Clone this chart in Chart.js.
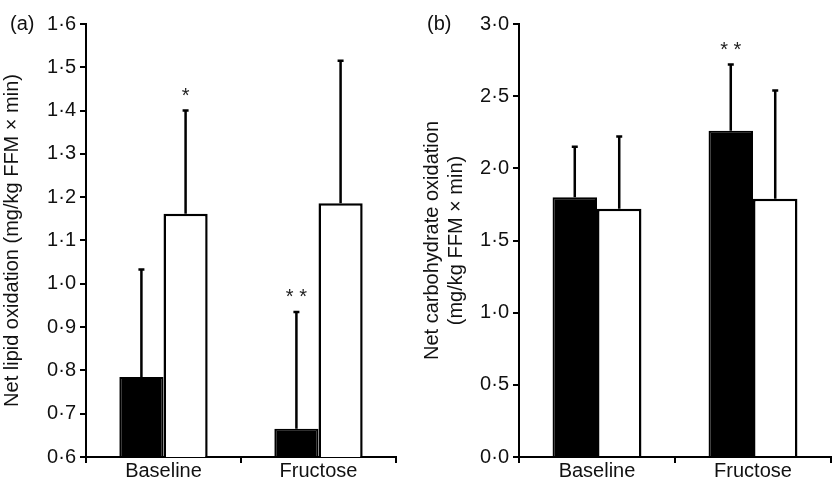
<!DOCTYPE html>
<html><head><meta charset="utf-8">
<script src="https://cdn.jsdelivr.net/npm/chart.js@4"></script>
<style>
body{margin:0;background:#fff;width:839px;height:484px;position:relative;overflow:hidden;font-family:"Liberation Sans",Arial,sans-serif}
.p{position:absolute;top:0;height:484px}
.lab{position:absolute;font-size:20px;color:#111}
</style></head><body>
<div class="p" style="left:0;width:420px"><canvas id="a"></canvas></div>
<div class="p" style="left:420px;width:419px"><canvas id="b"></canvas></div>
<div class="lab" style="left:10px;top:12px">(a)</div>
<div class="lab" style="left:427px;top:12px">(b)</div>
<script>
const categories = ["Baseline","Fructose"];
// panel a: net lipid oxidation
const lipidBlack = [0.785, 0.665];
const lipidBlackErr = [1.033, 0.935];
const lipidWhite = [1.162, 1.186];
const lipidWhiteErr = [1.400, 1.515];
const lipidStars = ["", "**"];
const lipidStarsWhite = ["*", ""];
// panel b: net carbohydrate oxidation
const carbBlack = [1.80, 2.26];
const carbBlackErr = [2.15, 2.72];
const carbWhite = [1.72, 1.79];
const carbWhiteErr = [2.22, 2.54];
const carbStars = ["", "**"];
const carbStarsWhite = ["", ""];
const lipidTicks = ["0·6","0·7","0·8","0·9","1·0","1·1","1·2","1·3","1·4","1·5","1·6"];

const errPlugin = {
  id:'err',
  afterDatasetsDraw(chart){
    const ctx = chart.ctx, y = chart.scales.y;
    const o = chart.options.plugins.err;
    [0,1].forEach(di=>{
      const meta = chart.getDatasetMeta(di);
      meta.data.forEach((bar,i)=>{
        const top = y.getPixelForValue(o.errs[di][i]);
        ctx.save();
        ctx.strokeStyle='#000';ctx.lineWidth=2.5;
        ctx.beginPath();ctx.moveTo(bar.x,bar.y);ctx.lineTo(bar.x,top);
        ctx.moveTo(bar.x-3,top);ctx.lineTo(bar.x+3,top);ctx.stroke();
        const s = o.stars[di][i];
        if(s){ctx.fillStyle='#222';ctx.font='20px "Liberation Sans"';ctx.textAlign='center';ctx.textBaseline='bottom';
          ctx.fillText(s.split('').join(' '),bar.x,top-4);}
        ctx.restore();
      });
    });
  }
};
Chart.register(errPlugin);

function make(id, black, white, errs, stars, min, max, step, fmt, title, axisW, padR){
  return new Chart(document.getElementById(id),{
    type:'bar',
    data:{labels:categories,datasets:[
      {data:black,backgroundColor:'#000',borderColor:'#000',borderWidth:2,barPercentage:1,categoryPercentage:0.57},
      {data:white,backgroundColor:'#fff',borderColor:'#000',borderWidth:2.5,barPercentage:1,categoryPercentage:0.57}
    ]},
    options:{
      responsive:true,maintainAspectRatio:false,animation:false,
      layout:{padding:{top:24,right:padR,bottom:5,left:0}},
      plugins:{legend:{display:false},tooltip:{enabled:false},
        err:{errs:errs,stars:stars}},
      scales:{
        x:{grid:{drawOnChartArea:false,color:'#000',tickLength:6,lineWidth:2,offset:true},
           border:{color:'#000',width:2},
           ticks:{color:'#111',font:{size:20,family:'Liberation Sans'},padding:-4}},
        y:{min:min,max:max,
           grid:{drawOnChartArea:false,color:'#000',tickLength:6,lineWidth:2},
           border:{color:'#000',width:2},
           ticks:{stepSize:step,color:'#111',font:{size:20,family:'Liberation Sans'},padding:4,callback:fmt},
           title:{display:true,text:title,color:'#111',font:{size:20,family:'Liberation Sans'},padding:{top:0,bottom:0}},
           afterFit(s){s.width=axisW;}}
      }
    }
  });
}
make('a',lipidBlack,lipidWhite,[lipidBlackErr,lipidWhiteErr],[lipidStars,lipidStarsWhite],0.6,1.6,0.1,
  (v,i)=>lipidTicks[i],"Net lipid oxidation (mg/kg FFM × min)",86,24);
make('b',carbBlack,carbWhite,[carbBlackErr,carbWhiteErr],[carbStars,carbStarsWhite],0,3,0.5,
  v=>v.toFixed(1).replace('.','·'),["Net carbohydrate oxidation","(mg/kg FFM × min)"],99,8);
</script>
</body></html>
